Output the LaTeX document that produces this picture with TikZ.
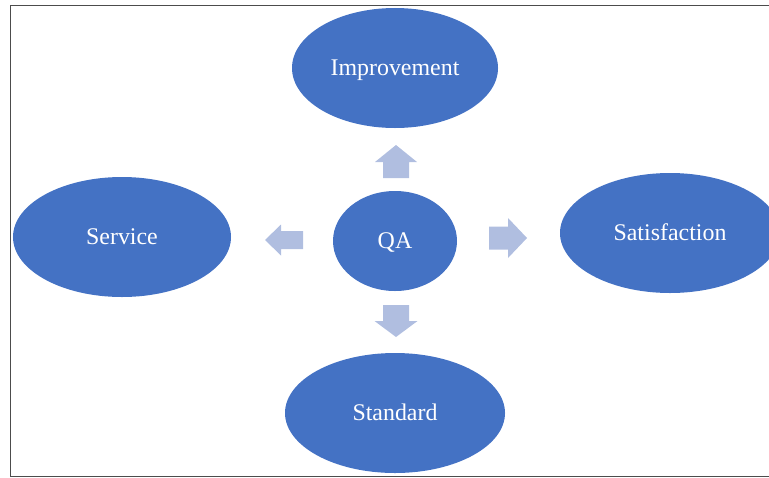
\documentclass[tikz,border=0pt]{standalone}
\usepackage{fontspec}
\setmainfont{Liberation Serif}
\usepackage{xcolor}
\usetikzlibrary{shapes.geometric,positioning}
\definecolor{qablue}{HTML}{4472C4}
\definecolor{qalight}{HTML}{B0BEE0}
\tikzset{
  bubble/.style={ellipse, fill=qablue, draw=none, inner sep=0pt, text=white,
    text height=13.5pt, text depth=0pt,
    font=\fontsize{20.4}{24}\selectfont},
}
\newcommand{\blockarrow}[6]{
  % block arrow with its tail centre at #1, pointing at angle #2
  % #3: length, #4: half shaft, #5: half head, #6: head length
  \fill[qalight, shift={(#1)}, rotate=#2]
    (0,-#4) -- (#3-#6,-#4) -- (#3-#6,-#5) -- (#3,0)
    -- (#3-#6,#5) -- (#3-#6,#4) -- (0,#4) -- cycle;
}

\begin{document}
\begin{tikzpicture}[x=0.03cm, y=-0.03cm]
  \useasboundingbox (0,0) rectangle (769,477);
  \draw[line width=1.3pt, gray!60!black] (775,5.5) -- (10.6,5.5) -- (10.6,476.3) -- (775,476.3);  %frame
  \node[bubble, minimum width=3.72cm, minimum height=3cm] (qa) at (395,241) {QA};
  \node[bubble, minimum width=6.18cm, minimum height=3.6cm] (improvement) at (395,68) {Improvement};
  \node[bubble, minimum width=6.54cm, minimum height=3.6cm] (service) at (122,237) {Service};
  \node[bubble, minimum width=6.6cm, minimum height=3.6cm] (satisfaction) at (670,233) {Satisfaction};
  \node[bubble, minimum width=6.6cm, minimum height=3.6cm] (standard) at (395,413) {Standard};
  \blockarrow{396,178}{90}{33}{13}{21}{17}
  \blockarrow{303,240}{180}{38}{9}{15.5}{16}
  \blockarrow{489,238}{0}{38}{11.5}{20}{19}
  \blockarrow{396,305}{270}{32}{13}{21.5}{16}
\end{tikzpicture}
\end{document}
